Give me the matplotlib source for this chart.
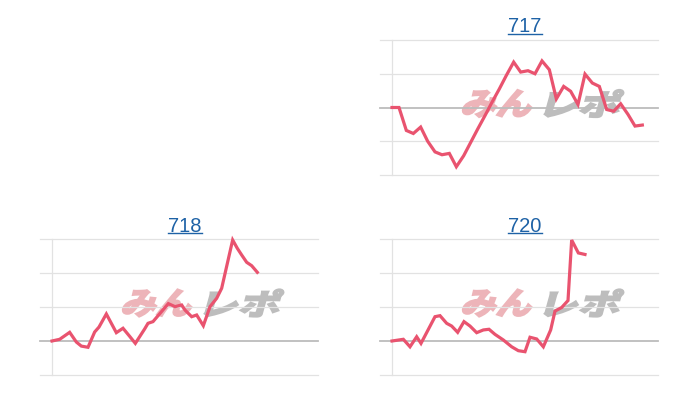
import matplotlib
matplotlib.use("Agg")
import matplotlib.pyplot as plt
from matplotlib.textpath import TextPath
from matplotlib.font_manager import FontProperties
from matplotlib.patches import PathPatch
from matplotlib.transforms import Affine2D
from matplotlib.lines import Line2D

# ---------------- data ----------------
titles = ["717", "718", "720"]

x_717 = [0, 210, 430, 640, 860, 1070, 1290, 1500, 1720, 1930, 2150, 2360,
         2570, 2790, 3000, 3220, 3430, 3650, 3860, 4080, 4290, 4500, 4720,
         4930, 5150, 5360, 5580, 5790, 6010, 6220, 6440, 6650, 6860, 7080,
         7290, 7510]
y_717 = [0, 0, -680, -770, -580, -1000, -1315, -1400, -1360, -1755, -1430,
         -1035, -640, -240, 155, 550, 950, 1345, 1050, 1090, 1000, 1380, 1120,
         255, 625, 480, 90, 990, 725, 625, -60, -110, 110, -205, -550, -520]

x_718 = [0, 230, 530, 730, 880, 1080, 1280, 1410, 1630, 1930, 2130, 2340,
         2500, 2780, 2880, 3030, 3490, 3690, 3890, 3990, 4190, 4340, 4540,
         4740, 4940, 5090, 5420, 5560, 5690, 5840, 5990, 6160]
y_718 = [0, 50, 255, -30, -150, -185, 265, 410, 795, 245, 375, 125, -70, 355,
         520, 570, 1100, 1010, 1060, 910, 715, 765, 450, 1010, 1255, 1550,
         2970, 2725, 2530, 2315, 2215, 2020]

x_720 = [0, 340, 540, 740, 870, 1290, 1440, 1640, 1790, 1970, 2160, 2340,
         2540, 2740, 2910, 3090, 3340, 3590, 3790, 3990, 4140, 4340, 4540,
         4760, 4890, 5090, 5280, 5390, 5590, 5790]
y_720 = [0, 50, -170, 125, -70, 715, 745, 520, 440, 255, 570, 440, 245, 325,
         345, 195, 30, -170, -285, -315, 110, 60, -170, 325, 880, 985, 1190,
         2970, 2590, 2545]

grid_717 = [-2000, -1000, 0, 1000, 2000]
grid_bottom = [-1000, 0, 1000, 2000, 3000]

# ---------------- style ----------------
W, H = 700, 400
LINE_COLOR = "#e9536f"
GRID_LIGHT = "#e2e2e2"
GRID_ZERO = "#bcbcbc"
TITLE_COLOR = "#1e62a6"
LOGO_PINK = "#edb4b9"
LOGO_GRAY = "#bdbdbd"

fig = plt.figure(figsize=(7, 4), dpi=100)
fig.patch.set_facecolor("white")

fp_logo = FontProperties(family="Noto Sans CJK JP", weight="bold")


def px_axes(left, top, right, bottom):
    return fig.add_axes([left / W, 1 - bottom / H, (right - left) / W, (bottom - top) / H])


def logo_part(ax, text, x0, x1, ytop, ybot, color):
    p = TextPath((0, 0), text, size=100, prop=fp_logo)
    ext = p.get_extents()
    skew = 0.27
    h = ybot - ytop
    w = (x1 - x0) - skew * h
    tr = (Affine2D().translate(-ext.x0, -ext.y0)
          .scale(w / ext.width, h / ext.height)
          .skew(skew, 0)
          .translate(x0, H - ybot)
          .scale(1 / W, 1 / H)) + fig.transFigure
    patch = PathPatch(p, facecolor=color, edgecolor=color, lw=1.6,
                      joinstyle="miter", transform=tr, zorder=0.5, clip_on=False)
    ax.add_patch(patch)


def panel(left_px, top_px, right_px, bottom_px, zero_px, xs, ys, grids, title):
    ax = px_axes(left_px, top_px, right_px, bottom_px)
    ax.set_facecolor("none")
    ax.set_xlim(-360, 7980)
    ax.set_ylim(grids[0], grids[-1])
    for g in grids:
        ax.axhline(g, color=GRID_ZERO if g == 0 else GRID_LIGHT,
                   lw=1.3 if g == 0 else 0.9, zorder=1, clip_on=False)
    ax.plot([0, 0], [grids[0], grids[-1]], color=GRID_LIGHT, lw=0.9,
            zorder=1, clip_on=False)
    ax.plot(xs, ys, color=LINE_COLOR, lw=2.3, zorder=3, clip_on=False,
            solid_joinstyle="miter")
    ax.axis("off")

    # watermark
    cx = zero_px + 150
    mid = (top_px + bottom_px) / 2 - 3.5
    logo_part(ax, "みん", cx - 81, cx - 6, mid - 14, mid + 13, LOGO_PINK)
    logo_part(ax, "レポ", cx + 2, cx + 82, mid - 14, mid + 13, LOGO_GRAY)

    # title
    tx = (zero_px + right_px) / 2
    base = top_px - 7.5
    t = fig.text(tx / W, 1 - base / H, title, ha="center", va="baseline",
                 fontsize=14.5, color=TITLE_COLOR, family="Liberation Sans")
    return t, base


t1 = panel(380, 40, 658, 175, 392, x_717, y_717, grid_717, titles[0])
t2 = panel(40, 239, 318, 375, 52, x_718, y_718, grid_bottom, titles[1])
t3 = panel(380, 239, 658, 375, 392, x_720, y_720, grid_bottom, titles[2])

fig.canvas.draw()
renderer = fig.canvas.get_renderer()
for t, base in (t1, t2, t3):
    bb = t.get_window_extent(renderer)
    yline = H - (base + 1.8)
    fig.add_artist(Line2D([bb.x0 / W, bb.x1 / W], [yline / H, yline / H],
                          color=TITLE_COLOR, lw=1.0, transform=fig.transFigure))

fig.savefig("out.png", dpi=100, facecolor="white")
